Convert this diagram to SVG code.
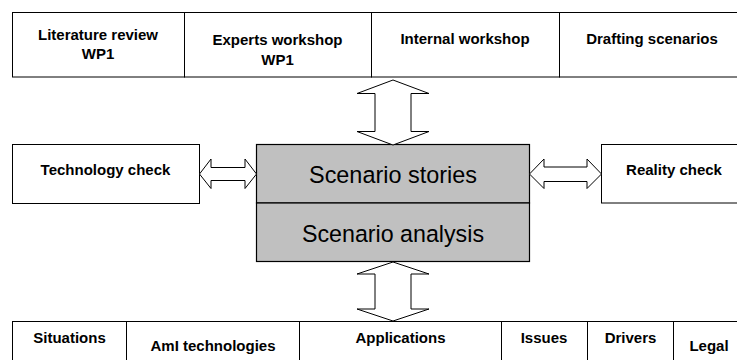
<svg xmlns="http://www.w3.org/2000/svg" width="737" height="360" viewBox="0 0 737 360">
  <style>
    .cell { fill: #ffffff; stroke: #000000; stroke-width: 1; }
    .core { fill: #c0c0c0; stroke: #000000; stroke-width: 1.2; }
    .lbl { font-family: "Liberation Sans", Arial, sans-serif; font-size: 15px; font-weight: bold; fill: #000000; text-anchor: middle; }
    .big { font-family: "Liberation Sans", Arial, sans-serif; font-size: 24.5px; fill: #000000; text-anchor: middle; }
    .arrow { fill: #ffffff; stroke: #000000; stroke-width: 1; stroke-linejoin: miter; }
  </style>
  <rect width="737" height="360" fill="#ffffff"/>

  <!-- top row: sources -->
  <g id="literature-review">
    <rect class="cell" x="12.5" y="12.5" width="172" height="64.5"/>
    <text class="lbl" x="98" y="40">Literature review</text>
    <text class="lbl" x="98" y="59">WP1</text>
  </g>
  <g id="experts-workshop">
    <rect class="cell" x="184.5" y="12.5" width="187" height="64.5"/>
    <text class="lbl" x="277.5" y="45">Experts workshop</text>
    <text class="lbl" x="277.5" y="65">WP1</text>
  </g>
  <g id="internal-workshop">
    <rect class="cell" x="371.5" y="12.5" width="188" height="64.5"/>
    <text class="lbl" x="465" y="44">Internal workshop</text>
  </g>
  <g id="drafting-scenarios">
    <rect class="cell" x="559.5" y="12.5" width="190" height="64.5"/>
    <text class="lbl" x="652" y="44">Drafting scenarios</text>
  </g>

  <!-- side checks -->
  <g id="technology-check">
    <rect class="cell" x="12.5" y="144.5" width="187" height="59"/>
    <text class="lbl" x="105.5" y="175">Technology check</text>
  </g>
  <g id="reality-check">
    <rect class="cell" x="601.5" y="144.5" width="150" height="58.5"/>
    <text class="lbl" x="674" y="175">Reality check</text>
  </g>

  <!-- central block -->
  <g id="scenario-stories">
    <rect class="core" x="256.5" y="144.5" width="273" height="58.5"/>
    <text class="big" x="393" y="182.5" textLength="168" lengthAdjust="spacingAndGlyphs">Scenario stories</text>
  </g>
  <g id="scenario-analysis">
    <rect class="core" x="256.5" y="203" width="273" height="58.5"/>
    <text class="big" x="393" y="241.5" textLength="182" lengthAdjust="spacingAndGlyphs">Scenario analysis</text>
  </g>

  <!-- bottom row: outputs -->
  <g id="situations">
    <rect class="cell" x="12.5" y="321.5" width="114" height="50"/>
    <text class="lbl" x="69.5" y="343">Situations</text>
  </g>
  <g id="ami-technologies">
    <rect class="cell" x="126.5" y="321.5" width="173" height="50"/>
    <text class="lbl" x="213" y="350.5">AmI technologies</text>
  </g>
  <g id="applications">
    <rect class="cell" x="299.5" y="321.5" width="202" height="50"/>
    <text class="lbl" x="400.5" y="343">Applications</text>
  </g>
  <g id="issues">
    <rect class="cell" x="501.5" y="321.5" width="86" height="50"/>
    <text class="lbl" x="544" y="343">Issues</text>
  </g>
  <g id="drivers">
    <rect class="cell" x="587.5" y="321.5" width="86" height="50"/>
    <text class="lbl" x="630.5" y="343">Drivers</text>
  </g>
  <g id="legal">
    <rect class="cell" x="673.5" y="321.5" width="75" height="50"/>
    <text class="lbl" x="709" y="350.5">Legal</text>
  </g>

  <!-- double-headed block arrows -->
  <g id="connectors">
    <polygon class="arrow" points="393,80 429,93.5 411,93.5 411,131.5 429,131.5 393,145 357,131.5 375,131.5 375,93.5 357,93.5"/>
    <polygon class="arrow" points="393,262 429,274 411,274 411,309 429,309 393,321 357,309 375,309 375,274 357,274"/>
    <polygon class="arrow" points="199.5,174 211,159 211,167.5 245,167.5 245,159 256.5,174 245,188.5 245,180.5 211,180.5 211,188.5"/>
    <polygon class="arrow" points="529.5,174 544,159 544,167 587,167 587,159 601.5,174 587,188.5 587,181.5 544,181.5 544,188.5"/>
  </g>
</svg>
